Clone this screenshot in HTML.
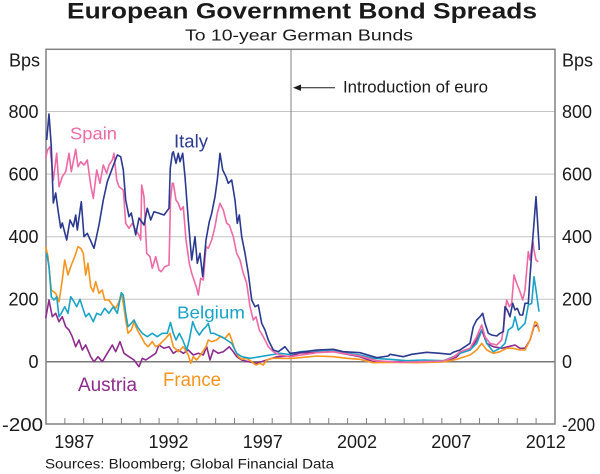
<!DOCTYPE html>
<html><head><meta charset="utf-8"><style>
html,body{margin:0;padding:0;background:#fff;}
svg{display:block;}
text{font-family:"Liberation Sans",Arial,sans-serif;fill:#1a1a1a;}
</style></head><body>
<svg width="600" height="474" viewBox="0 0 600 474" xmlns="http://www.w3.org/2000/svg">
<rect width="600" height="474" fill="#fff"/>
<text x="67" y="18.5" font-size="22" font-weight="bold" textLength="470" lengthAdjust="spacingAndGlyphs">European Government Bond Spreads</text>
<text x="185" y="40.5" font-size="16" textLength="228" lengthAdjust="spacingAndGlyphs">To 10-year German Bunds</text>
<g stroke="#c4c4c4" stroke-width="1">
<line x1="46" y1="111.5" x2="555" y2="111.5"/>
<line x1="46" y1="174.1" x2="555" y2="174.1"/>
<line x1="46" y1="236.7" x2="555" y2="236.7"/>
<line x1="46" y1="299.2" x2="555" y2="299.2"/>
</g>
<line x1="291" y1="49" x2="291" y2="424" stroke="#808080" stroke-width="1"/>
<line x1="46" y1="361.7" x2="555" y2="361.7" stroke="#7a7a7a" stroke-width="1.5"/>
<rect x="46" y="49.3" width="509" height="374.7" fill="none" stroke="#808080" stroke-width="1.5"/>
<g stroke="#808080" stroke-width="1">
<line x1="64.85" y1="418" x2="64.85" y2="424"/><line x1="83.7" y1="418" x2="83.7" y2="424"/><line x1="102.55" y1="418" x2="102.55" y2="424"/><line x1="121.4" y1="418" x2="121.4" y2="424"/><line x1="140.25" y1="418" x2="140.25" y2="424"/><line x1="159.1" y1="418" x2="159.1" y2="424"/><line x1="177.95" y1="418" x2="177.95" y2="424"/><line x1="196.8" y1="418" x2="196.8" y2="424"/><line x1="215.65" y1="418" x2="215.65" y2="424"/><line x1="234.5" y1="418" x2="234.5" y2="424"/><line x1="253.35" y1="418" x2="253.35" y2="424"/><line x1="272.2" y1="418" x2="272.2" y2="424"/><line x1="291.05" y1="418" x2="291.05" y2="424"/><line x1="309.9" y1="418" x2="309.9" y2="424"/><line x1="328.75" y1="418" x2="328.75" y2="424"/><line x1="347.6" y1="418" x2="347.6" y2="424"/><line x1="366.45" y1="418" x2="366.45" y2="424"/><line x1="385.3" y1="418" x2="385.3" y2="424"/><line x1="404.15" y1="418" x2="404.15" y2="424"/><line x1="423" y1="418" x2="423" y2="424"/><line x1="441.85" y1="418" x2="441.85" y2="424"/><line x1="460.7" y1="418" x2="460.7" y2="424"/><line x1="479.55" y1="418" x2="479.55" y2="424"/><line x1="498.4" y1="418" x2="498.4" y2="424"/><line x1="517.25" y1="418" x2="517.25" y2="424"/><line x1="536.1" y1="418" x2="536.1" y2="424"/>
</g>
<g font-size="18" text-anchor="end">
<text x="40" y="66.5">Bps</text>
<text x="38.5" y="118">800</text>
<text x="38.5" y="180.6">600</text>
<text x="38.5" y="243.2">400</text>
<text x="38.5" y="305.7">200</text>
<text x="38.5" y="368.2">0</text>
</g>
<text x="2" y="430.8" font-size="18" textLength="41" lengthAdjust="spacingAndGlyphs">-200</text>
<g font-size="18">
<text x="562" y="66.5">Bps</text>
<text x="562" y="118">800</text>
<text x="562" y="180.6">600</text>
<text x="562" y="243.2">400</text>
<text x="562" y="305.7">200</text>
<text x="562" y="368.2">0</text>
<text x="562" y="430.8" textLength="33" lengthAdjust="spacingAndGlyphs">-200</text>
</g>
<g font-size="18" text-anchor="middle">
<text x="74.3" y="448">1987</text>
<text x="168.5" y="448">1992</text>
<text x="262.8" y="448">1997</text>
<text x="357" y="448">2002</text>
<text x="451.3" y="448">2007</text>
<text x="545.8" y="448">2012</text>
</g>
<text x="45" y="468.3" font-size="14" textLength="289" lengthAdjust="spacingAndGlyphs">Sources: Bloomberg; Global Financial Data</text>
<text x="343" y="92.5" font-size="16.5" textLength="145" lengthAdjust="spacingAndGlyphs">Introduction of euro</text>
<line x1="299" y1="87.7" x2="335" y2="87.7" stroke="#1a1a1a" stroke-width="1"/>
<polygon points="293,87.7 301,84.5 301,90.9" fill="#1a1a1a"/>

<g fill="none" stroke-width="1.6" stroke-linejoin="round">
<polyline stroke="#8e2b8e" points="45.7,318.3 49,300 52.3,316.7 55.7,313.3 59,321.7 62.3,316.7 65.7,326.7 69,330 72.3,336.7 75.7,346.7 79,340 82.3,350 85.7,345 90.7,356.7 94,361.7 98,356.7 102.3,361.7 107.3,353.3 112.3,345 115.7,351.7 120,341.7 124,353.3 129,356.7 134,360 139,366.7 142.3,358.3 145.7,360 150.7,356.7 155.7,353.3 159,345 164,348.3 169,346.7 173.3,353.3 178.3,350 183.3,353.3 188.3,350 193.3,355 198.3,353.3 203.3,355 206.7,346.7 210,360 213.3,350 218.3,353.3 223.3,351.7 229.3,346.7 233.3,351.7 236.7,356.7 241.7,360 248.3,361.7 256.7,363.3 266.7,360 276.7,356.7 290,356 300,353 316.7,352.3 333.3,351.7 360,356.7 373.3,361.7 390,361.7 423.3,361.7 446.7,360.7 456.7,357 460,353.3 470,350 476.7,340 481.7,330 486.7,343.3 493.3,346.7 501.7,348.3 508.3,346.7 515,345 520,348.3 525,348.3 530,340 534,326.7 536.7,325 538.7,328.3"/>
<polyline stroke="#f7941d" points="45.7,246.7 48,256.7 51.3,290 55.7,293.3 59,301.7 62.3,280 64.7,260 68,275 71.3,265 74.7,256.7 78,246.7 80.7,248.3 83.3,253.3 85.7,275 88,263.3 90.7,286.7 93.3,291.7 95.7,281.7 99,293.3 102.3,290 104.7,300 109,300 112.3,305 115.7,308.3 119,301.7 121.3,293.3 123.3,303.3 125.7,320 128,333.3 131.3,330 134,321.7 137.3,330 141.3,336.7 144.7,343.3 148,346.7 152.3,341.7 155.7,346.7 159,345 162.3,341.7 165.7,338.3 170,333.3 173.3,346.7 178.3,351.7 183.3,346.7 188.3,355 190.7,363.3 193.3,356.7 196.7,360 201.7,353.3 206,346.7 208.3,340 211.7,341.7 216.7,340 220,336.7 225,338.3 229.3,333.3 231.7,340 235,350 238.3,356.7 241.7,359.3 246.7,358.3 251.7,361.7 256,365 260,363.3 263.3,365 266.7,360 271.7,358.3 280,358.3 290,358.5 300,357.7 316.7,356 333.3,356.7 346.7,358.3 360,359.3 373.3,362.7 390,362.3 416.7,362.7 443.3,362 456.7,359.3 460,358.3 470,355 476.7,350 481.7,343.3 486.7,350 493.3,353.3 500,351.7 506.7,348.3 513.3,348.3 520,350 525,350 530,340 535,321.7 537.3,323.3 539.3,331.7"/>
<polyline stroke="#1aa3c7" points="46.7,253.3 49,266.7 51.3,296.7 54,300 56.7,296.7 59,316.7 61.3,313.3 64.7,306.7 68,313.3 70.7,296.7 74,301.7 76.7,306.7 80,299.3 82.3,306.7 85.7,316.7 89,313.3 93.3,321.7 96.7,313.3 100.7,315 104.7,308.3 109,313.3 113.3,306.7 117.3,313.3 121.3,292.7 123.3,295 125.7,313.3 128,326.7 131.3,323.3 134,320 137.3,326.7 142.3,333.3 147.3,336.7 152.3,333.3 157.3,336.7 162.3,333.3 167.3,333.3 170.5,322.5 173.3,333.3 176,340 179.3,333.3 182.7,340 186.7,350 189.3,340 192.7,321.7 196,330 199.3,335 202.7,330 206,326.7 208.3,323.3 210.7,333.3 214,333.3 217.3,335 221.7,336.7 226.7,340 231.7,343.3 236.7,353.3 241.7,356.7 250,358.3 260,356.7 270,355 280,353.3 290,354.5 300,351.7 316.7,350.7 333.3,350 343.3,352.7 360,355 373.3,358.3 390,359.3 406.7,360.7 423.3,360 443.3,360.7 453.3,356.7 460,353.3 470,350 476.7,343.3 482.7,328.3 486.7,343.3 493.3,351.7 500,348.3 505,343.3 508.3,330 512.7,326.7 515,316.7 518.3,330 521.7,326.7 525,323.3 528.3,305 531.7,303.3 534,276.7 536,290 539,311.7"/>
<polyline stroke="#ee6aa7" points="45.7,158.3 47.5,150 50,146.7 53.3,180 56.7,153.3 59,186.7 62.3,176.7 65.7,171.7 69,153.3 71.3,171.7 75.7,149.3 78,166.7 80.7,161.7 84,165 87.3,160 90.7,185 93.3,198.3 96.7,170 100,183.3 103.3,165 106.7,173.3 109,165 112.3,160 114,153.3 116.7,180 119,186.7 123.3,190 125.7,223.3 129,228.3 132.3,223.3 135.7,230 139,235 140.7,240 141.7,185 144,196.7 146.7,253.3 150,256.7 152.3,268.3 155.7,256.7 159,270 161.3,271.7 164.7,266.7 169,265 170.5,200 172.3,183.3 173.3,183.3 176,200 178.3,203.3 180.7,210 183.3,206.7 186,240 189.3,263.3 191.7,273.3 194,280 196.7,288.3 198.3,295 200.7,278.3 203.3,280 206,246.7 208.3,248.3 211.7,240 215,226.7 217.3,213.3 220,203.3 223.3,210 226.7,223.3 229.3,225 233.3,236.7 236.7,253.3 240,260 243.3,273.3 246.7,283.3 250,306.7 253.3,320 256,316.7 259.3,330 263.3,336.7 268.3,346.7 273.3,351.7 280,355 290,356.7 316.7,352.7 333.3,351.7 360,356 376.7,360.7 400,362.3 423.3,361.7 443.3,361 453.3,357.3 460,351.7 470,348.3 476.7,336.7 481.7,325 485,336.7 490,343.3 496.7,345 501.7,340 504,323.3 506.7,300 509.3,306.7 511.7,303.3 514,275 516.7,283.3 520,291.7 522.7,300 525,290 528.3,251.7 530,260 532.7,240 534,250 536,260 538.3,261.7"/>
<polyline stroke="#2b3990" points="46.7,140 49,114 51.3,146.7 53.3,203 55.7,193 58,210 60.7,228 62.3,223 66.7,240 70,220 73.3,226.7 75.7,215 77.3,230 81.3,201.7 84,236.7 87.3,233.3 94,248.3 99,225 103.3,200 107.3,181.7 112.3,168.3 117.3,155 120.7,156.7 123.3,170 125.7,200 129,216.7 131.3,213 135.7,235 139,218 144,225 147.3,208.3 150.7,220 154,211.7 159,213.3 164,215 169,208.3 170.3,168 172.3,153.3 173.3,151.7 176,163.3 178.3,153.3 180,161.7 182.7,153.3 185,176.7 188.3,220 191.7,260 195,236.7 197.3,263.3 200,253.3 202.7,276.7 206,240 209.3,221.7 211.7,213.3 215,196.7 217.3,180 220,153.3 222.7,170 226,176.7 228.3,183.3 231.7,180 235,200 237.3,223.3 239.3,215 241.7,236.7 245,253.3 248.3,273.3 251.7,300 255,306.7 258.3,305 261.7,323.3 265,330 268.3,340 273.3,350 278.3,351.7 285,346.7 290,353.3 300,352.3 316.7,350 333.3,349.3 343.3,351.7 360,352.7 376.7,357.7 388.3,356 390,354.3 403.3,356.7 411.7,354.3 426.7,352.3 440,353.3 450,354.3 453.3,352.3 460,350 465,346.7 470,343.3 473.3,326.7 476.7,320 480,316.7 482.7,313.3 485,323.3 488.3,333.3 491.7,335 496.7,336 500,333.3 503.3,331.7 505,306.7 507.3,310 510,316.7 512.7,303.3 515,310 517.3,308.3 520,315 522.7,315 525,303.3 528.3,303.3 530,276.7 532.7,240 536,196.7 539.3,250"/>
</g>
<text x="70" y="139.3" font-size="17.5" fill="#ee6aa7" style="fill:#ee6aa7" textLength="47" lengthAdjust="spacingAndGlyphs">Spain</text>
<text x="174" y="147.3" font-size="18.5" style="fill:#2b3990" textLength="34" lengthAdjust="spacingAndGlyphs">Italy</text>
<text x="177" y="318.3" font-size="17.5" style="fill:#1aa3c7" textLength="68" lengthAdjust="spacingAndGlyphs">Belgium</text>
<text x="78" y="391" font-size="19" style="fill:#8e2b8e" textLength="59" lengthAdjust="spacingAndGlyphs">Austria</text>
<text x="163" y="386" font-size="19" style="fill:#f7941d" textLength="58" lengthAdjust="spacingAndGlyphs">France</text>
</svg>
</body></html>
